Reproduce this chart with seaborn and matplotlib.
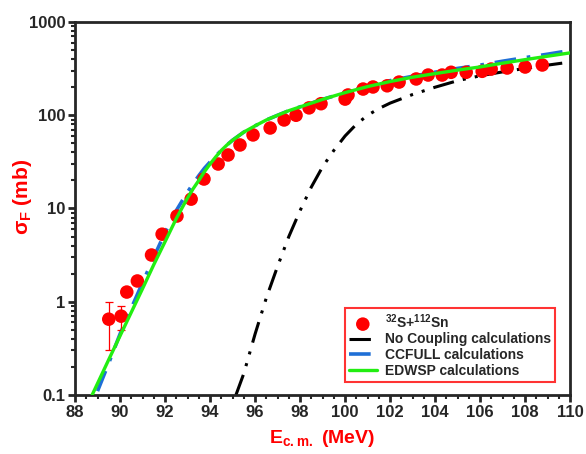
import numpy as np
import pandas as pd
import seaborn as sns
import matplotlib
matplotlib.use("Agg")
import matplotlib.pyplot as plt
from matplotlib.ticker import MultipleLocator, LogLocator, NullFormatter

# measured fusion cross sections, 32S+112Sn
E_exp = [89.5, 90.05, 90.3, 90.77, 91.4, 91.87, 92.53, 93.16, 93.73, 94.36, 94.8, 95.33,
         95.91, 96.67, 97.29, 97.82, 98.4, 98.93, 100.0, 100.13, 100.8, 101.24, 101.87,
         102.4, 103.16, 103.69, 104.31, 104.71, 105.38, 106.09, 106.49, 107.2, 108.0, 108.76]
sigma_exp = [0.65, 0.7, 1.27, 1.67, 3.17, 5.3, 8.3, 12.6, 20.7, 30, 37.5, 48,
             61.5, 73, 89, 100, 120, 133, 149, 165, 191, 201, 207,
             227, 245, 270, 270, 289, 289, 296, 313, 321, 329, 346]
err_exp = [0.35, 0.2, 0.05, 0.07, 0.12, 0.2, 0.3, 0.5, 0.8, 1.2, 1.5, 2,
           2.5, 3, 4, 4, 5, 6, 8, 12, 10, 12, 10,
           12, 14, 15, 15, 16, 15, 15, 16, 16, 16, 17]

# No coupling calculations
E_nc = [95.15, 95.5, 96, 96.5, 97, 97.5, 98, 98.5, 99, 99.5, 100, 100.5, 101, 101.5, 102,
        103, 104, 105, 106, 107, 108, 109, 110]
sigma_nc = [0.1, 0.17, 0.45, 1.1, 2.4, 5, 9.5, 17, 28, 42, 60, 80, 100, 118, 135,
            167, 200, 235, 265, 292, 318, 345, 372]

# CCFULL calculations
E_cc = [89, 89.5, 90, 90.5, 91, 91.5, 92, 92.5, 93, 93.25, 93.5, 93.75, 94, 94.25, 94.5,
        94.75, 95, 95.5, 96, 96.5, 97, 97.5, 98, 99, 100, 101, 102, 103, 104, 105, 106,
        107, 108, 109, 110]
sigma_cc = [0.11, 0.22, 0.45, 0.85, 1.6, 3.0, 5.5, 9.5, 15, 18.5, 22.5, 27, 31.5, 36.5, 42,
            48, 54, 66, 77, 89, 100, 112, 123, 148, 175, 205, 235, 262, 290, 318, 345,
            380, 415, 452, 495]

# EDWSP calculations
E_ed = [88.76, 89.5, 90, 90.5, 91, 91.5, 92, 92.5, 93, 93.25, 93.5, 93.75, 94, 94.25, 94.5,
        94.75, 95, 95.5, 96, 96.5, 97, 97.5, 98, 99, 100, 101, 102, 103, 104, 105, 106,
        107, 108, 109, 110]
sigma_ed = [0.1, 0.24, 0.43, 0.77, 1.38, 2.5, 4.4, 7.8, 13, 16.3, 20, 24.8, 30, 35.7, 42,
            48, 54, 66, 77, 89, 100, 112, 123, 148, 175, 203, 230, 256, 280, 305, 330,
            362, 395, 430, 467]

sns.set_style("ticks")
plt.rcParams['font.family'] = ['Liberation Sans', 'DejaVu Sans']
plt.rcParams['font.weight'] = 'bold'
plt.rcParams['mathtext.fontset'] = 'custom'
plt.rcParams['mathtext.bf'] = 'Liberation Sans:bold'
plt.rcParams['mathtext.rm'] = 'Liberation Sans'

fig = plt.figure(figsize=(5.86, 4.54), dpi=100)
ax = fig.add_axes([0.128, 0.130, 0.845, 0.8215])

ax.errorbar(E_exp, sigma_exp, yerr=err_exp, fmt='none', ecolor='red',
            elinewidth=0.9, capsize=3, capthick=0.9, zorder=3)
sns.scatterplot(x=E_exp, y=sigma_exp, ax=ax, color='red', s=95, edgecolor='none',
                zorder=4, label='$^{\\mathbf{32}}$S+$^{\\mathbf{112}}$Sn')
sns.lineplot(x=E_nc, y=sigma_nc, ax=ax, color='black', lw=2.2,
             linestyle=(0, (7, 3, 1, 3, 1, 3)), label='No Coupling calculations', zorder=2)
sns.lineplot(x=E_cc, y=sigma_cc, ax=ax, color='#1f6fd6', lw=2.6,
             linestyle=(0, (6, 3, 1, 3)), label='CCFULL calculations', zorder=2)
sns.lineplot(x=E_ed, y=sigma_ed, ax=ax, color='#22ee11', lw=2.4,
             label='EDWSP calculations', zorder=5)

ax.set_yscale('log')
ax.set_xlim(88, 110)
ax.set_ylim(0.1, 1000)
ax.xaxis.set_major_locator(MultipleLocator(2))
ax.xaxis.set_minor_locator(MultipleLocator(0.5))
ax.set_yticks([0.1, 1, 10, 100, 1000])
ax.set_yticklabels(['0.1', '1', '10', '100', '1000'])
ax.yaxis.set_minor_locator(LogLocator(base=10, subs=np.arange(2, 10)))
ax.yaxis.set_minor_formatter(NullFormatter())

ax.tick_params(axis='both', which='major', direction='out', length=5, width=2,
               labelsize=12, pad=2)
ax.tick_params(axis='both', which='minor', direction='out', length=3, width=1.5)
for lab in ax.get_xticklabels() + ax.get_yticklabels():
    lab.set_fontweight('bold')
for s in ax.spines.values():
    s.set_linewidth(2)

ax.set_xlabel('E$_{\\mathbf{c.m.}}$ (MeV)', color='red', fontsize=14, fontweight='bold',
              labelpad=6)
ax.set_ylabel('σ$_{\\mathbf{F}}$ (mb)', color='red', fontsize=15, fontweight='bold')
ax.yaxis.set_label_coords(-0.082, 0.53)

leg = ax.legend(loc='lower right', bbox_to_anchor=(0.97, 0.035), frameon=True,
                fancybox=False, prop={'weight': 'bold', 'size': 10},
                handlelength=2.0, handletextpad=0.6, labelspacing=0.12,
                borderpad=0.3, borderaxespad=0)
leg.get_frame().set_edgecolor('red')
leg.get_frame().set_linewidth(1.5)

fig.savefig('out.png', dpi=100)
